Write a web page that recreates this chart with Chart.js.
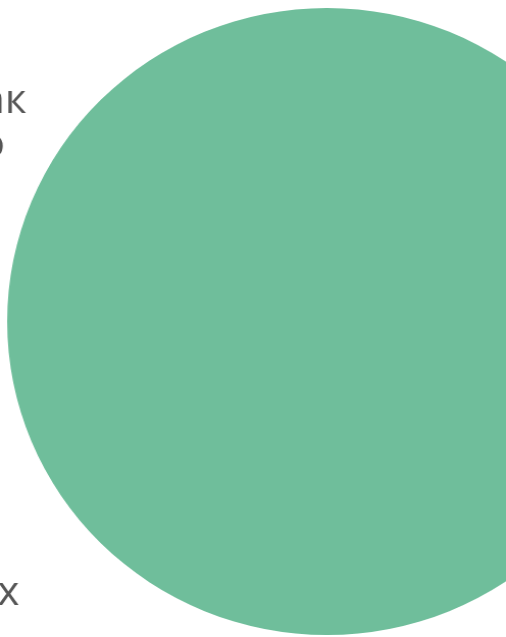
<!DOCTYPE html>
<html>
<head>
<meta charset="utf-8">
<script src="https://cdn.jsdelivr.net/npm/chart.js@4"></script>
<style>
  html, body { margin: 0; padding: 0; background: #fff; overflow: hidden; }
  #wrap {
    position: absolute; left: -400px; top: 0; width: 1041px; height: 637px;
    transform: scaleX(1.02); transform-origin: 400px 0;
  }
</style>
</head>
<body>
<div id="wrap"><canvas id="pie"></canvas></div>
<script>
// answers and their share
const categories = [["Бывает и так", "но нечасто"], "Не из таких"];
const values = [100, 0];
const colors = ["#6fbe9b", "#e0896b"];

// draws the category names to the left of the pie (right-aligned lines)
const sideLabels = {
    id: "sideLabels",
    afterDraw(chart) {
        const { ctx, chartArea } = chart;
        const left = chartArea.left;
        const top = chartArea.top;
        ctx.save();
        ctx.font = "41px 'Open Sans'";
        ctx.fillStyle = "#555555";
        ctx.textAlign = "right";
        ctx.textBaseline = "alphabetic";
        ctx.fillText(categories[0][0], left + 26, top + 105);
        ctx.fillText(categories[0][1], left + 5, top + 149);
        ctx.fillText(categories[1], left + 19, top + 597);
        ctx.restore();
    },
};

new Chart(document.getElementById("pie"), {
    type: "pie",
    data: {
        labels: categories,
        datasets: [{
            data: values,
            backgroundColor: colors,
            borderWidth: 0,
        }],
    },
    options: {
        responsive: true,
        maintainAspectRatio: false,
        animation: false,
        layout: { padding: { left: 400, top: 8, bottom: 2 } },
        plugins: {
            legend: { display: false },
            tooltip: { enabled: false },
        },
    },
    plugins: [sideLabels],
});
</script>
</body>
</html>
